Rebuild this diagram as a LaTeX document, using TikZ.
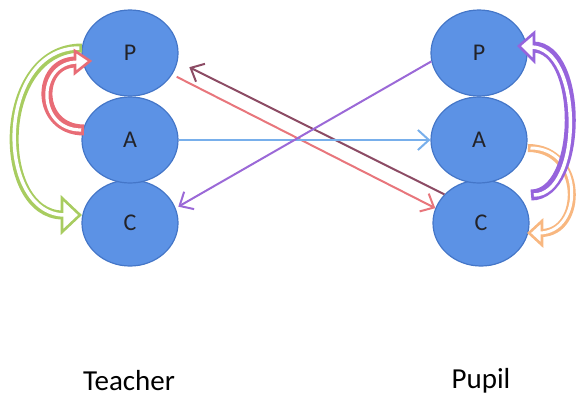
\documentclass[tikz,border=0pt]{standalone}
\usepackage{fontspec}
\setmainfont{Carlito}
\usetikzlibrary{arrows.meta,shapes.geometric}
\definecolor{ellfill}{RGB}{92,146,229}
\definecolor{ellborder}{RGB}{68,118,200}
\definecolor{lettercol}{RGB}{35,35,40}
\definecolor{greenc}{RGB}{168,204,96}
\definecolor{redc}{RGB}{232,108,118}
\definecolor{purplec}{RGB}{150,100,220}
\definecolor{orangec}{RGB}{248,183,128}
\definecolor{redline}{RGB}{232,118,124}
\definecolor{mauvec}{RGB}{140,75,100}
\definecolor{bluec}{RGB}{120,175,235}
\definecolor{purpleline}{RGB}{155,105,215}
\begin{document}
\begin{tikzpicture}[x=1pt,y=-1pt,
  circ/.style={ellipse, draw=ellborder, line width=1.2pt, fill=ellfill,
    minimum width=96pt, minimum height=86pt, inner sep=0pt,
    font=\fontsize{24}{26}\selectfont, text=lettercol},
  conn/.style={line width=2pt, -{Straight Barb[length=11pt,width=20pt,line width=2pt]}},
  lbl/.style={font=\fontsize{29}{32}\selectfont, text=black},
  headtri/.style={fill=white, line width=2.6pt, line join=miter}]
\useasboundingbox (0,0) rectangle (578,397);

% ellipses
\node[circ] (TC) at (130,223) {C};
\node[circ] (TA) at (130,140) {A};
\node[circ] (TP) at (130,53) {P};
\node[circ] (PC) at (481,223) {C};
\node[circ] (PA) at (479,140) {A};
\node[circ] (PP) at (479,53) {P};

% labels
\node[lbl] (lt) at (129,381) {Teacher};
\node[lbl] (lp) at (481,381) {Pupil};

% straight connectors
\draw[conn, redline, shorten <=5pt] (TP.-27) -- (PC.162);
\draw[conn, mauvec, shorten >=13pt] (PC.142) -- (TP.-10);
\draw[conn, bluec] (TA.east) -- (PA.west);
\draw[conn, purpleline, shorten >=3pt] (PP.190) -- (TC.18);

% green hollow curved arrow (Teacher P -> C)
\draw[greenc, line width=9pt] (82,48) .. controls (-5,48) and (-5,215) .. (63,215);
\draw[headtri, draw=greenc] (62,198) -- (80,215) -- (62,232) -- cycle;
\draw[white, line width=3.5pt, shorten <=2.6pt] (82,48) .. controls (-5,48) and (-5,215) .. (65,215);

% red hollow curved arrow (Teacher A -> P)
\draw[redc, line width=11pt] (84,130) .. controls (36,130) and (36,62) .. (76,62);
\draw[headtri, draw=redc] (75,51) -- (90,61) -- (75,73) -- cycle;
\draw[white, line width=3.2pt, shorten <=2.8pt] (84,130) .. controls (36,130) and (36,62) .. (78,62);

% orange hollow curved arrow (Pupil A -> C)
\draw[orangec, line width=8pt] (528,148) .. controls (584,148) and (584,233) .. (541,233);
\draw[headtri, draw=orangec] (542,221) -- (529,233) -- (542,245) -- cycle;
\draw[white, line width=3pt, shorten <=2.5pt] (528,148) .. controls (584,148) and (584,233) .. (539,233);

% purple hollow curved arrow (Pupil C -> P)
\draw[purplec, line width=11pt] (531,195) .. controls (583,195) and (583,47) .. (533,47);
\draw[headtri, draw=purplec] (534,33) -- (519,46) -- (534,61) -- cycle;
\draw[white, line width=3.5pt, shorten <=2.8pt] (531,195) .. controls (583,195) and (583,47) .. (531,47);
\end{tikzpicture}
\end{document}
